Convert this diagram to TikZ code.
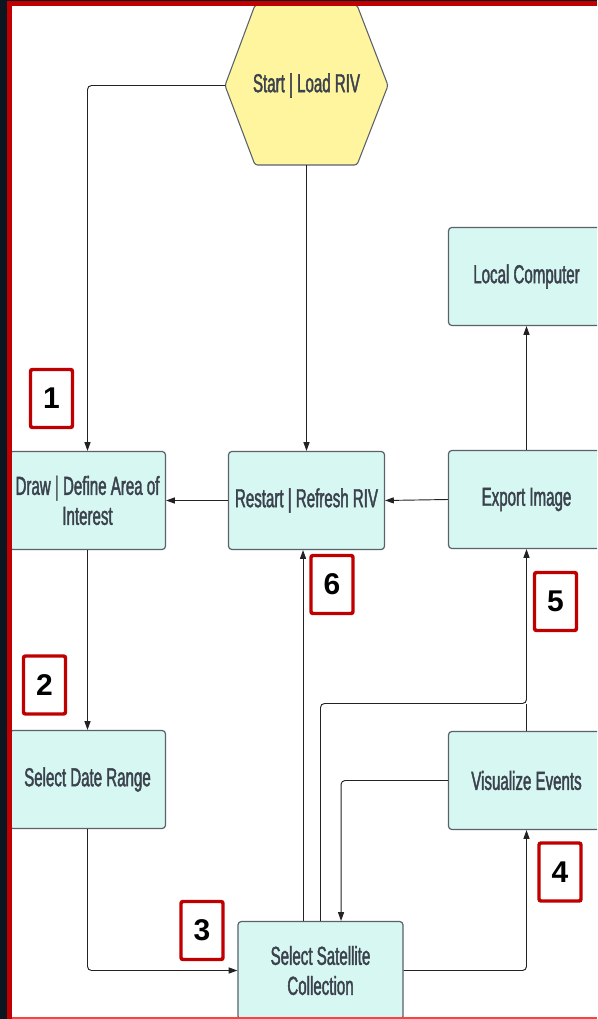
\documentclass[tikz,border=0pt]{standalone}
\usepackage{fontspec}
\setmainfont{Liberation Sans}
\newfontfamily\boxfont{Liberation Sans}[FakeStretch=0.58,FakeBold=1.6]
\newfontfamily\numfont{Liberation Sans Bold}
\usetikzlibrary{arrows.meta}
\definecolor{boxfill}{HTML}{D7F7F2}
\definecolor{boxline}{HTML}{5A616B}
\definecolor{hexfill}{HTML}{FFF59F}
\definecolor{txt}{HTML}{3B424D}
\definecolor{redb}{HTML}{C00000}
\definecolor{darkb}{HTML}{0B1620}
\definecolor{conn}{HTML}{222222}
\tikzset{
  procbox/.style={draw=boxline, fill=boxfill, line width=0.9pt, rounded corners=2.5pt,
    minimum width=117pt, minimum height=73.5pt, inner sep=0pt, align=center,
    text=txt, font=\boxfont\fontsize{19.5pt}{22.5pt}\selectfont},
  numbox/.style={draw=redb, fill=white, line width=2.6pt, rounded corners=1.5pt,
    minimum width=31.5pt, minimum height=43.5pt, inner sep=0pt,
    font=\numfont\fontsize{22.5pt}{24pt}\selectfont, text=black},
  arr/.style={draw=conn, line width=0.7pt, -{Triangle[length=6.5pt,width=4.5pt]}},
  ln/.style={draw=conn, line width=0.7pt},
}
\begin{document}
\begin{tikzpicture}[x=0.75pt,y=-0.75pt]
\clip (0,0) rectangle (597,1019);
\fill[white] (0,0) rectangle (597,1019);
% hexagon
\draw[draw=boxline, fill=hexfill, line width=0.8pt, rounded corners=2pt]
  (225,85.5) -- (255,5) -- (357,5) -- (388,85.5) -- (357,165) -- (255,165) -- cycle;
\node[text=txt, font=\boxfont\fontsize{19.5pt}{22.5pt}\selectfont] (start) at (306.5,85.5) {Start | Load RIV};
\coordinate (hexL) at (225,85.5);
\coordinate (hexB) at (306.5,165);
% process boxes
\node[procbox] (draw) at (87.5,500.5) {Draw | Define Area of\\Interest};
\node[procbox] (restart) at (306.5,500.5) {Restart | Refresh RIV};
\node[procbox] (local) at (526.5,276.5) {Local Computer};
\node[procbox] (export) at (526.5,499.5) {Export Image};
\node[procbox] (date) at (87.5,779.5) {Select Date Range};
\node[procbox] (visual) at (526.5,780.5) {Visualize Events};
\node[procbox, minimum width=123.75pt] (sat) at (320.5,970.5) {Select Satellite\\Collection};
\coordinate (j1) at (526.5,703.5);
% connectors
\draw[arr, rounded corners=3pt] (hexL) -| (draw.north);
\draw[arr] (hexB) -- (restart.north);
\draw[arr] (restart.west) -- (draw.east);
\draw[arr] (export.west) -- (restart.east);
\draw[arr] (export.north) -- (local.south);
\draw[arr] (draw.south) -- (date.north);
\draw[arr, rounded corners=3pt] (date.south) |- (sat.west);
\draw[arr, rounded corners=3pt] (sat.east) -| (visual.south);
\draw[arr] ([xshift=-13.1pt]sat.north) -- ([xshift=-13.1pt]sat.north |- restart.south);
\draw[ln] (visual.north) -- (j1);
\draw[arr, rounded corners=3pt] (sat.north) |- (j1) -- (export.south);
\draw[arr, rounded corners=3pt] (visual.west) -| ([xshift=15.4pt]sat.north);
% number boxes
\node[numbox] (n1) at (51.5,398.5) {1};
\node[numbox] (n2) at (44.5,685) {2};
\node[numbox] (n3) at (202,930.5) {3};
\node[numbox] (n4) at (560,872) {4};
\node[numbox] (n5) at (555.5,601.5) {5};
\node[numbox] (n6) at (332,584.5) {6};
% frame
\fill[darkb] (0,0) rectangle (7,1019);
\fill[darkb] (0,0) rectangle (597,1);
\fill[redb] (7,1) rectangle (597,6);
\fill[redb] (7,1) rectangle (12,1019);
\fill[red!75!white] (12,1017) rectangle (597,1019);
\end{tikzpicture}
\end{document}
